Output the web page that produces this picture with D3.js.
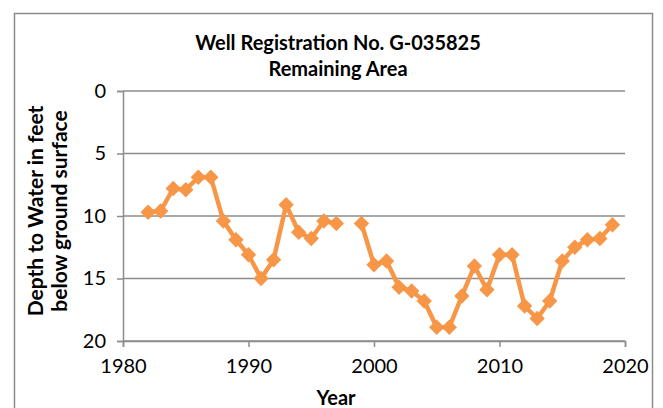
<!DOCTYPE html>
<html>
<head>
<meta charset="utf-8">
<script src="https://cdn.jsdelivr.net/npm/d3@7"></script>
<style>
  body { margin: 0; background: #fff; }
  text { font-family: Lato, "Open Sans", sans-serif; }
</style>
</head>
<body>
<div id="chart"></div>
<script>
const years = [1982, 1983, 1984, 1985, 1986, 1987, 1988, 1989, 1990, 1991, 1992, 1993, 1994, 1995, 1996, 1997,
    1998, 1999, 2000, 2001, 2002, 2003, 2004, 2005, 2006, 2007, 2008, 2009, 2010, 2011, 2012, 2013, 2014,
    2015, 2016, 2017, 2018, 2019];
// null = no measurement that year
const depth = [9.7, 9.6, 7.8, 7.9, 6.9, 6.9, 10.4, 11.9, 13.1, 15.0, 13.5, 9.1, 11.3, 11.8, 10.4, 10.6,
    null, 10.6, 13.9, 13.6, 15.7, 16.0, 16.8, 18.9, 18.9, 16.4, 14.0, 15.9, 13.1, 13.1, 17.2, 18.2, 16.8,
    13.6, 12.5, 11.9, 11.8, 10.7];
const xTicks = [1980, 1990, 2000, 2010, 2020];
const yTicks = [0, 5, 10, 15, 20];

function draw() {
    const W = 663, H = 408;
    const margin = {top: 91, right: 38, bottom: 67, left: 123},
        width = W - margin.left - margin.right,
        height = H - margin.top - margin.bottom;
    const orange = "#f79646", grid = "#8c8c8c";

    const root = d3.select("#chart").append("svg")
        .attr("width", W).attr("height", H);

    // outer chart frame
    root.append("rect")
        .attr("x", 14.5).attr("y", 13.5)
        .attr("width", 638).attr("height", 420)
        .attr("fill", "#fff").attr("stroke", "#8c8c8c").attr("stroke-width", 1.5);

    root.append("text").attr("x", 338).attr("y", 50)
        .attr("text-anchor", "middle").style("font-weight", "bold").style("font-size", "20px")
        .text("Well Registration No. G-035825");
    root.append("text").attr("x", 338).attr("y", 76)
        .attr("text-anchor", "middle").style("font-weight", "bold").style("font-size", "20px")
        .text("Remaining Area");

    const svg = root.append("g")
        .attr("transform", `translate(${margin.left},${margin.top})`);

    const x = d3.scaleLinear().domain([1980, 2020]).range([0, width]);
    const y = d3.scaleLinear().domain([0, 20]).range([0, height]);

    // gridlines
    svg.append("g")
        .selectAll("line")
        .data(yTicks)
        .join("line")
        .attr("x1", 0).attr("x2", width)
        .attr("y1", d => y(d)).attr("y2", d => y(d))
        .attr("stroke", grid).attr("stroke-width", 1.5);

    const yAxis = svg.append("g")
        .call(d3.axisLeft(y).tickValues(yTicks).tickSize(6).tickPadding(11).tickFormat(d3.format("d")));
    yAxis.select(".domain").attr("stroke", grid).attr("stroke-width", 1.5);
    yAxis.selectAll(".tick line").attr("stroke", grid).attr("stroke-width", 1.5);
    yAxis.selectAll("text").style("font-size", "20px").attr("fill", "#000");

    const xAxis = svg.append("g")
        .attr("transform", `translate(0,${height})`)
        .call(d3.axisBottom(x).tickValues(xTicks).tickSize(6).tickPadding(12).tickFormat(d3.format("d")));
    xAxis.select(".domain").attr("stroke", grid).attr("stroke-width", 1.5);
    xAxis.selectAll(".tick line").attr("stroke", grid).attr("stroke-width", 1.5);
    xAxis.selectAll("text").style("font-size", "20px").attr("fill", "#000");

    root.append("text").attr("x", 336).attr("y", 405)
        .attr("text-anchor", "middle").style("font-weight", "bold").style("font-size", "20px")
        .text("Year");

    const yTitle = root.append("text")
        .attr("transform", "translate(0,211) rotate(-90)")
        .attr("text-anchor", "middle").style("font-weight", "bold").style("font-size", "21px");
    yTitle.append("tspan").attr("x", 0).attr("y", 43).text("Depth to Water in feet");
    yTitle.append("tspan").attr("x", 0).attr("y", 67).text("below ground surface");

    const data = years.map((yr, i) => ({year: yr, value: depth[i]}));

    svg.append("path")
        .datum(data)
        .attr("fill", "none")
        .attr("stroke", orange)
        .attr("stroke-width", 4.5)
        .attr("stroke-linejoin", "round")
        .attr("d", d3.line()
            .defined(d => d.value !== null)
            .x(d => x(d.year))
            .y(d => y(d.value)));

    svg.append("g")
        .selectAll("path")
        .data(data.filter(d => d.value !== null))
        .join("path")
        .attr("transform", d => `translate(${x(d.year)},${y(d.value)})`)
        .attr("d", d3.symbol().type(d3.symbolDiamond2).size(150))
        .attr("fill", orange);
}

draw();
</script>
</body>
</html>
